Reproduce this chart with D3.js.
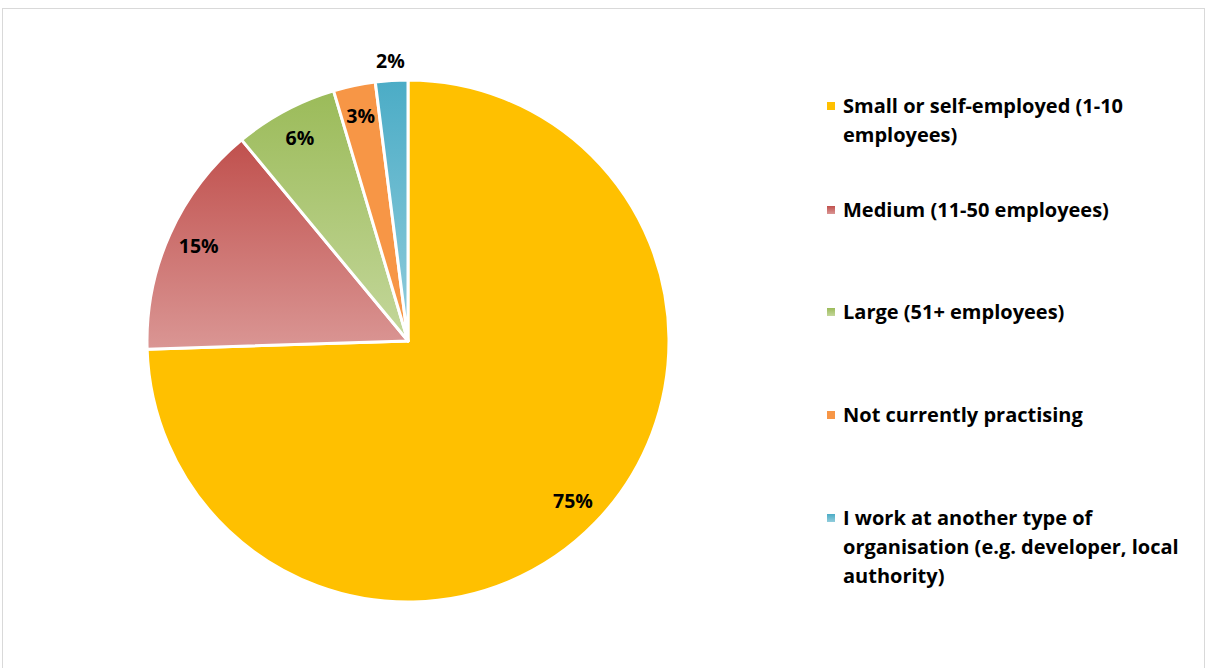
<!DOCTYPE html>
<html>
<head>
<meta charset="utf-8">
<script src="https://cdn.jsdelivr.net/npm/d3@7"></script>
<style>
  body { margin: 0; background: #fff; }
  svg text { font-family: 'Open Sans', Lato, sans-serif; font-weight: bold; }
</style>
</head>
<body>
<div class="container"></div>
<script>
var w = 1208, h = 668

// data
var categories = ['Small or self-employed (1-10 employees)', 'Medium (11-50 employees)', 'Large (51+ employees)', 'Not currently practising', 'I work at another type of organisation (e.g. developer, local authority)']
var values = [74.5, 14.5, 6.4, 2.6, 2.0]
var labels = ['75%', '15%', '6%', '3%', '2%']
var legendLines = [
    ['Small or self-employed (1-10', 'employees)'],
    ['Medium (11-50 employees)'],
    ['Large (51+ employees)'],
    ['Not currently practising'],
    ['I work at another type of', 'organisation (e.g. developer, local', 'authority)']
]
var darkColors = ['#FFC000', '#C0504D', '#9BBB59', '#F79646', '#4BACC6']
var lightColors = ['#FFC000', '#DA9694', '#C4D79B', '#F79646', '#92CDDC']

var cx = 408, cy = 341, radius = 261

var svg = d3.select('.container')
    .append('svg')
    .attr('width', w)
    .attr('height', h)

// chart frame
svg.append('rect')
    .attr('x', 2.5).attr('y', 8.5)
    .attr('width', 1202).attr('height', 700)
    .style('fill', 'white')
    .style('stroke', '#d9d9d9')
    .style('stroke-width', 1)

var defs = svg.append('defs')
darkColors.forEach((c, i) => {
    var g = defs.append('linearGradient')
        .attr('id', 'grad' + i)
        .attr('x1', 0).attr('y1', 0).attr('x2', 0).attr('y2', 1)
    g.append('stop').attr('offset', '0%').attr('stop-color', c)
    g.append('stop').attr('offset', '100%').attr('stop-color', lightColors[i])
})

var pie = d3.pie().sort(null).value(d => d)
var arcs = pie(values)
var arc = d3.arc().innerRadius(0).outerRadius(radius)
var labelArc = d3.arc().innerRadius(radius * 0.88).outerRadius(radius * 0.88)
var outArc = d3.arc().innerRadius(radius + 20).outerRadius(radius + 20)

var g1 = svg.append('g')
    .attr('transform', 'translate(' + cx + ',' + cy + ')')

g1.selectAll('.slice')
    .data(arcs)
    .enter()
    .append('path')
    .attr('class', 'slice')
    .attr('d', arc)
    .style('fill', (d, i) => 'url(#grad' + i + ')')
    .style('stroke', 'white')
    .style('stroke-width', 3)
    .style('stroke-linejoin', 'round')

g1.selectAll('.lbl')
    .data(arcs)
    .enter()
    .append('text')
    .attr('class', 'lbl')
    .attr('transform', d => {
        var p = (d.data < 2.5 ? outArc : labelArc).centroid(d)
        return 'translate(' + p[0] + ',' + (p[1] + 7) + ')'
    })
    .attr('text-anchor', 'middle')
    .style('font-size', '19.5px')
    .style('fill', 'black')
    .text((d, i) => labels[i])

// legend
var legendY = [113, 217, 319, 422, 525]
var lg = svg.selectAll('.leg')
    .data(categories)
    .enter()
    .append('g')
    .attr('class', 'leg')
    .attr('transform', (d, i) => 'translate(827,' + legendY[i] + ')')

lg.append('rect')
    .attr('x', 0).attr('y', -11)
    .attr('width', 8).attr('height', 8)
    .style('fill', (d, i) => 'url(#grad' + i + ')')

lg.each(function (d, i) {
    var t = d3.select(this).append('text')
        .attr('x', 16)
        .style('font-size', '20px')
        .style('fill', 'black')
    legendLines[i].forEach((line, j) => {
        t.append('tspan').attr('x', 16).attr('y', j * 29).text(line)
    })
})
</script>
</body>
</html>
